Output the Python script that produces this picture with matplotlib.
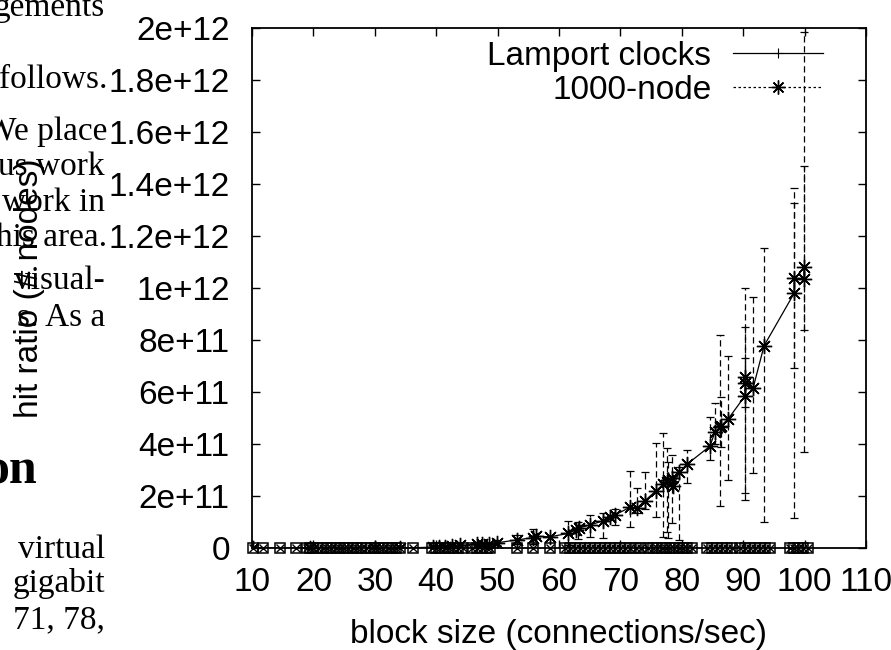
import matplotlib
matplotlib.use('Agg')
import matplotlib.pyplot as plt
from matplotlib.lines import Line2D

# curve shared by both series (x = block size, y = hit ratio)
curve_x = [10.2, 19.4, 30.0, 34.1, 39.5, 40.5, 41.5, 42.5, 43.9, 46.6, 47.5, 48.6,
           49.9, 53.1, 55.8, 56.3, 58.5, 61.5, 62.8, 63.3, 65.0, 67.2, 68.3, 69.1,
           71.6, 72.7, 74.0, 75.8, 77.0, 77.6, 77.8, 78.4, 78.6, 79.6, 80.9, 84.6,
           85.4, 86.2, 86.4, 87.6, 90.3, 90.3, 90.3, 91.6, 93.4, 98.3, 98.3, 99.9, 99.9]
curve_y = [0, 0, 0, 0, 3e9, 4e9, 5e9, 6e9, 1.0e10, 1.4e10, 1.5e10, 1.6e10,
           2.0e10, 3.1e10, 4.0e10, 4.5e10, 4.3e10, 5.6e10, 7.0e10, 7.8e10, 8.8e10, 1.05e11, 1.2e11, 1.27e11,
           1.57e11, 1.53e11, 1.82e11, 2.2e11, 2.46e11, 2.55e11, 2.62e11, 2.68e11, 2.38e11, 2.93e11, 3.23e11, 3.92e11,
           4.47e11, 4.64e11, 4.7e11, 4.98e11, 5.85e11, 6.36e11, 6.59e11, 6.14e11, 7.78e11, 9.8e11, 1.037e12, 1.035e12, 1.082e12]

# error bars of the 1000-node runs (centre, lower, upper)
err_x = [49.9, 53.1, 55.8, 61.5, 63.1, 65.0, 67.2, 69.1, 71.6, 72.7, 74.0, 75.8,
         77.0, 77.6, 77.8, 78.4, 79.6, 80.9, 84.6, 85.4, 86.2, 86.4, 87.6,
         90.3, 90.3, 90.3, 91.6, 93.4, 98.3, 98.3, 99.9, 99.9]
err_y = [2.0e10, 3.1e10, 4.0e10, 5.6e10, 7.6e10, 8.8e10, 1.05e11, 1.27e11, 1.57e11, 1.53e11, 1.82e11, 2.2e11,
         2.46e11, 2.55e11, 2.62e11, 2.68e11, 2.93e11, 3.23e11, 3.92e11, 4.47e11, 4.64e11, 4.7e11, 4.98e11,
         5.85e11, 6.36e11, 6.59e11, 6.14e11, 7.78e11, 9.8e11, 1.037e12, 1.035e12, 1.082e12]
err_lo = [1.0e10, 1.5e10, 1.5e10, 1.0e10, 3.5e10, 4.3e10, 4.0e10, 8.8e10, 8.2e10, 1.33e11, 1.5e11, 1.18e11,
          4.2e10, 6.3e10, 3.8e10, 9.6e10, 3.1e10, 2.49e11, 3.4e11, 4.0e11, 1.61e11, 3.9e11, 2.6e11,
          1.85e11, 2.13e11, 5.43e11, 2.88e11, 1.01e11, 1.14e11, 6.91e11, 8.38e11, 3.7e11]
err_hi = [3.0e10, 5.0e10, 7.2e10, 1.05e11, 1.0e11, 1.27e11, 1.35e11, 1.49e11, 2.97e11, 2.3e11, 2.93e11, 4.03e11,
          4.43e11, 3.85e11, 3.32e11, 3.58e11, 3.13e11, 3.77e11, 5.04e11, 5.58e11, 8.19e11, 5.82e11, 7.4e11,
          9.99e11, 8.51e11, 7.31e11, 9.67e11, 1.153e12, 1.385e12, 1.327e12, 1.47e12, 1.985e12]

# points sitting on the zero line
bottom_x = [10.2, 11.8, 14.6, 17.1, 19.0, 19.5, 20.0, 20.8, 21.5, 22.2, 22.9, 23.6, 24.3, 25.0,
            25.7, 26.4, 27.1, 27.8, 28.5, 29.3, 30.0, 30.7, 31.4, 32.1, 32.8, 33.5, 34.1, 36.3,
            39.3, 40.0, 40.7, 41.4, 42.1, 42.8, 43.6, 44.4, 45.8, 46.6, 47.4, 48.2, 48.8, 53.1,
            55.8, 58.5, 61.0, 61.8, 62.6, 63.4, 64.2, 65.0, 65.9, 66.7, 67.5, 68.3, 69.1, 69.9,
            70.7, 71.6, 72.5, 73.3, 74.5, 75.3, 76.0, 76.7, 77.4, 78.1, 78.8, 79.5, 80.2, 80.9,
            81.7, 84.1, 84.9, 85.7, 86.5, 87.3, 88.2, 89.5, 90.3, 91.1, 91.9, 92.7, 93.5, 94.4,
            97.6, 98.3, 99.0, 99.7, 100.5]

xticks = [10, 20, 30, 40, 50, 60, 70, 80, 90, 100, 110]
yticks = [0, 2e11, 4e11, 6e11, 8e11, 1e12, 1.2e12, 1.4e12, 1.6e12, 1.8e12, 2e12]
ytick_labels = ['0', '2e+11', '4e+11', '6e+11', '8e+11', '1e+12',
                '1.2e+12', '1.4e+12', '1.6e+12', '1.8e+12', '2e+12']

# fragments of the paper text around the figure: (text, baseline px, right edge px, size, weight)
page_text = [('gements', 16, 105, 24, 'normal'),
             ('follows.', 88, 107, 24, 'normal'),
             ('We place', 140, 107, 24, 'normal'),
             ('us work', 175, 105, 24, 'normal'),
             ('work in', 211, 105, 24, 'normal'),
             ('his area.', 246, 107, 24, 'normal'),
             ('visual-', 289, 105, 24, 'normal'),
             ('s. As a', 326, 105, 24, 'normal'),
             ('on', 484, 37, 36, 'bold'),
             ('virtual', 558, 105, 24, 'normal'),
             ('gigabit', 592, 105, 24, 'normal'),
             ('71, 78,', 628, 105, 24, 'normal')]

W, H = 891, 650
plt.rcParams['font.family'] = ['Liberation Sans', 'DejaVu Sans']

fig = plt.figure(figsize=(W / 100, H / 100), dpi=100)
for txt, base, right, size, weight in page_text:
    fig.text(right / W, 1 - base / H, txt, ha='right', va='baseline',
             fontsize=size, fontweight=weight, family=['Liberation Serif', 'DejaVu Serif'])

ax = fig.add_axes([252 / W, 1 - 548 / H, (866 - 252) / W, 520 / H])

star = (8, 2, 0)
dash = (0, (5, 3))

ax.plot(bottom_x, [0] * len(bottom_x), ls='none', marker='s', ms=6.5, mfc='none',
        mec='k', mew=1.1, clip_on=False, zorder=3)
ax.plot(bottom_x, [0] * len(bottom_x), ls='none', marker='x', ms=5.5,
        mec='k', mew=1.0, clip_on=False, zorder=3)

ax.plot(curve_x, curve_y, color='k', lw=0.9, marker='+', ms=7, mew=0.8, zorder=4)

yerr = [[y - lo for y, lo in zip(err_y, err_lo)], [hi - y for y, hi in zip(err_y, err_hi)]]
eb = ax.errorbar(err_x, err_y, yerr=yerr, fmt='none', ecolor='k', elinewidth=0.9,
                 capsize=3, capthick=0.9, zorder=3)
for lc in eb[2]:
    lc.set_linestyle(dash)
ax.plot(curve_x, curve_y, ls='none', marker=star, ms=11, mec='k', mew=1.0, zorder=5)

ax.set_xlim(10, 110)
ax.set_ylim(0, 2e12)
ax.set_xticks(xticks)
ax.set_xticklabels([str(v) for v in xticks])
ax.set_yticks(yticks)
ax.set_yticklabels(ytick_labels)
ax.tick_params(axis='both', direction='in', length=6, width=1, labelsize=24,
               top=True, right=True)
ax.tick_params(axis='x', pad=14)
ax.tick_params(axis='y', pad=16)
for sp in ax.spines.values():
    sp.set_linewidth(1.3)

ax.set_xlabel('block size (connections/sec)', fontsize=24)
ax.xaxis.set_label_coords(0.5, -0.137)
ax.set_ylabel('hit ratio (# nodes)', fontsize=24)
ax.yaxis.set_label_coords(-0.337, 0.5)

handles = [Line2D([], [], color='k', lw=0.9, marker='+', ms=7, mew=0.8),
           Line2D([], [], color='k', lw=0.9, ls=(0, (2, 2)), marker=star, ms=10, mew=1.0)]
ax.legend(handles, ['Lamport clocks', '1000-node'], loc='upper right',
          bbox_to_anchor=(0.93, 0.975), frameon=False, markerfirst=False,
          fontsize=24, handlelength=2.7, handletextpad=0.65, labelspacing=0.09,
          borderpad=0, borderaxespad=0)

fig.savefig('out.png', dpi=100)
